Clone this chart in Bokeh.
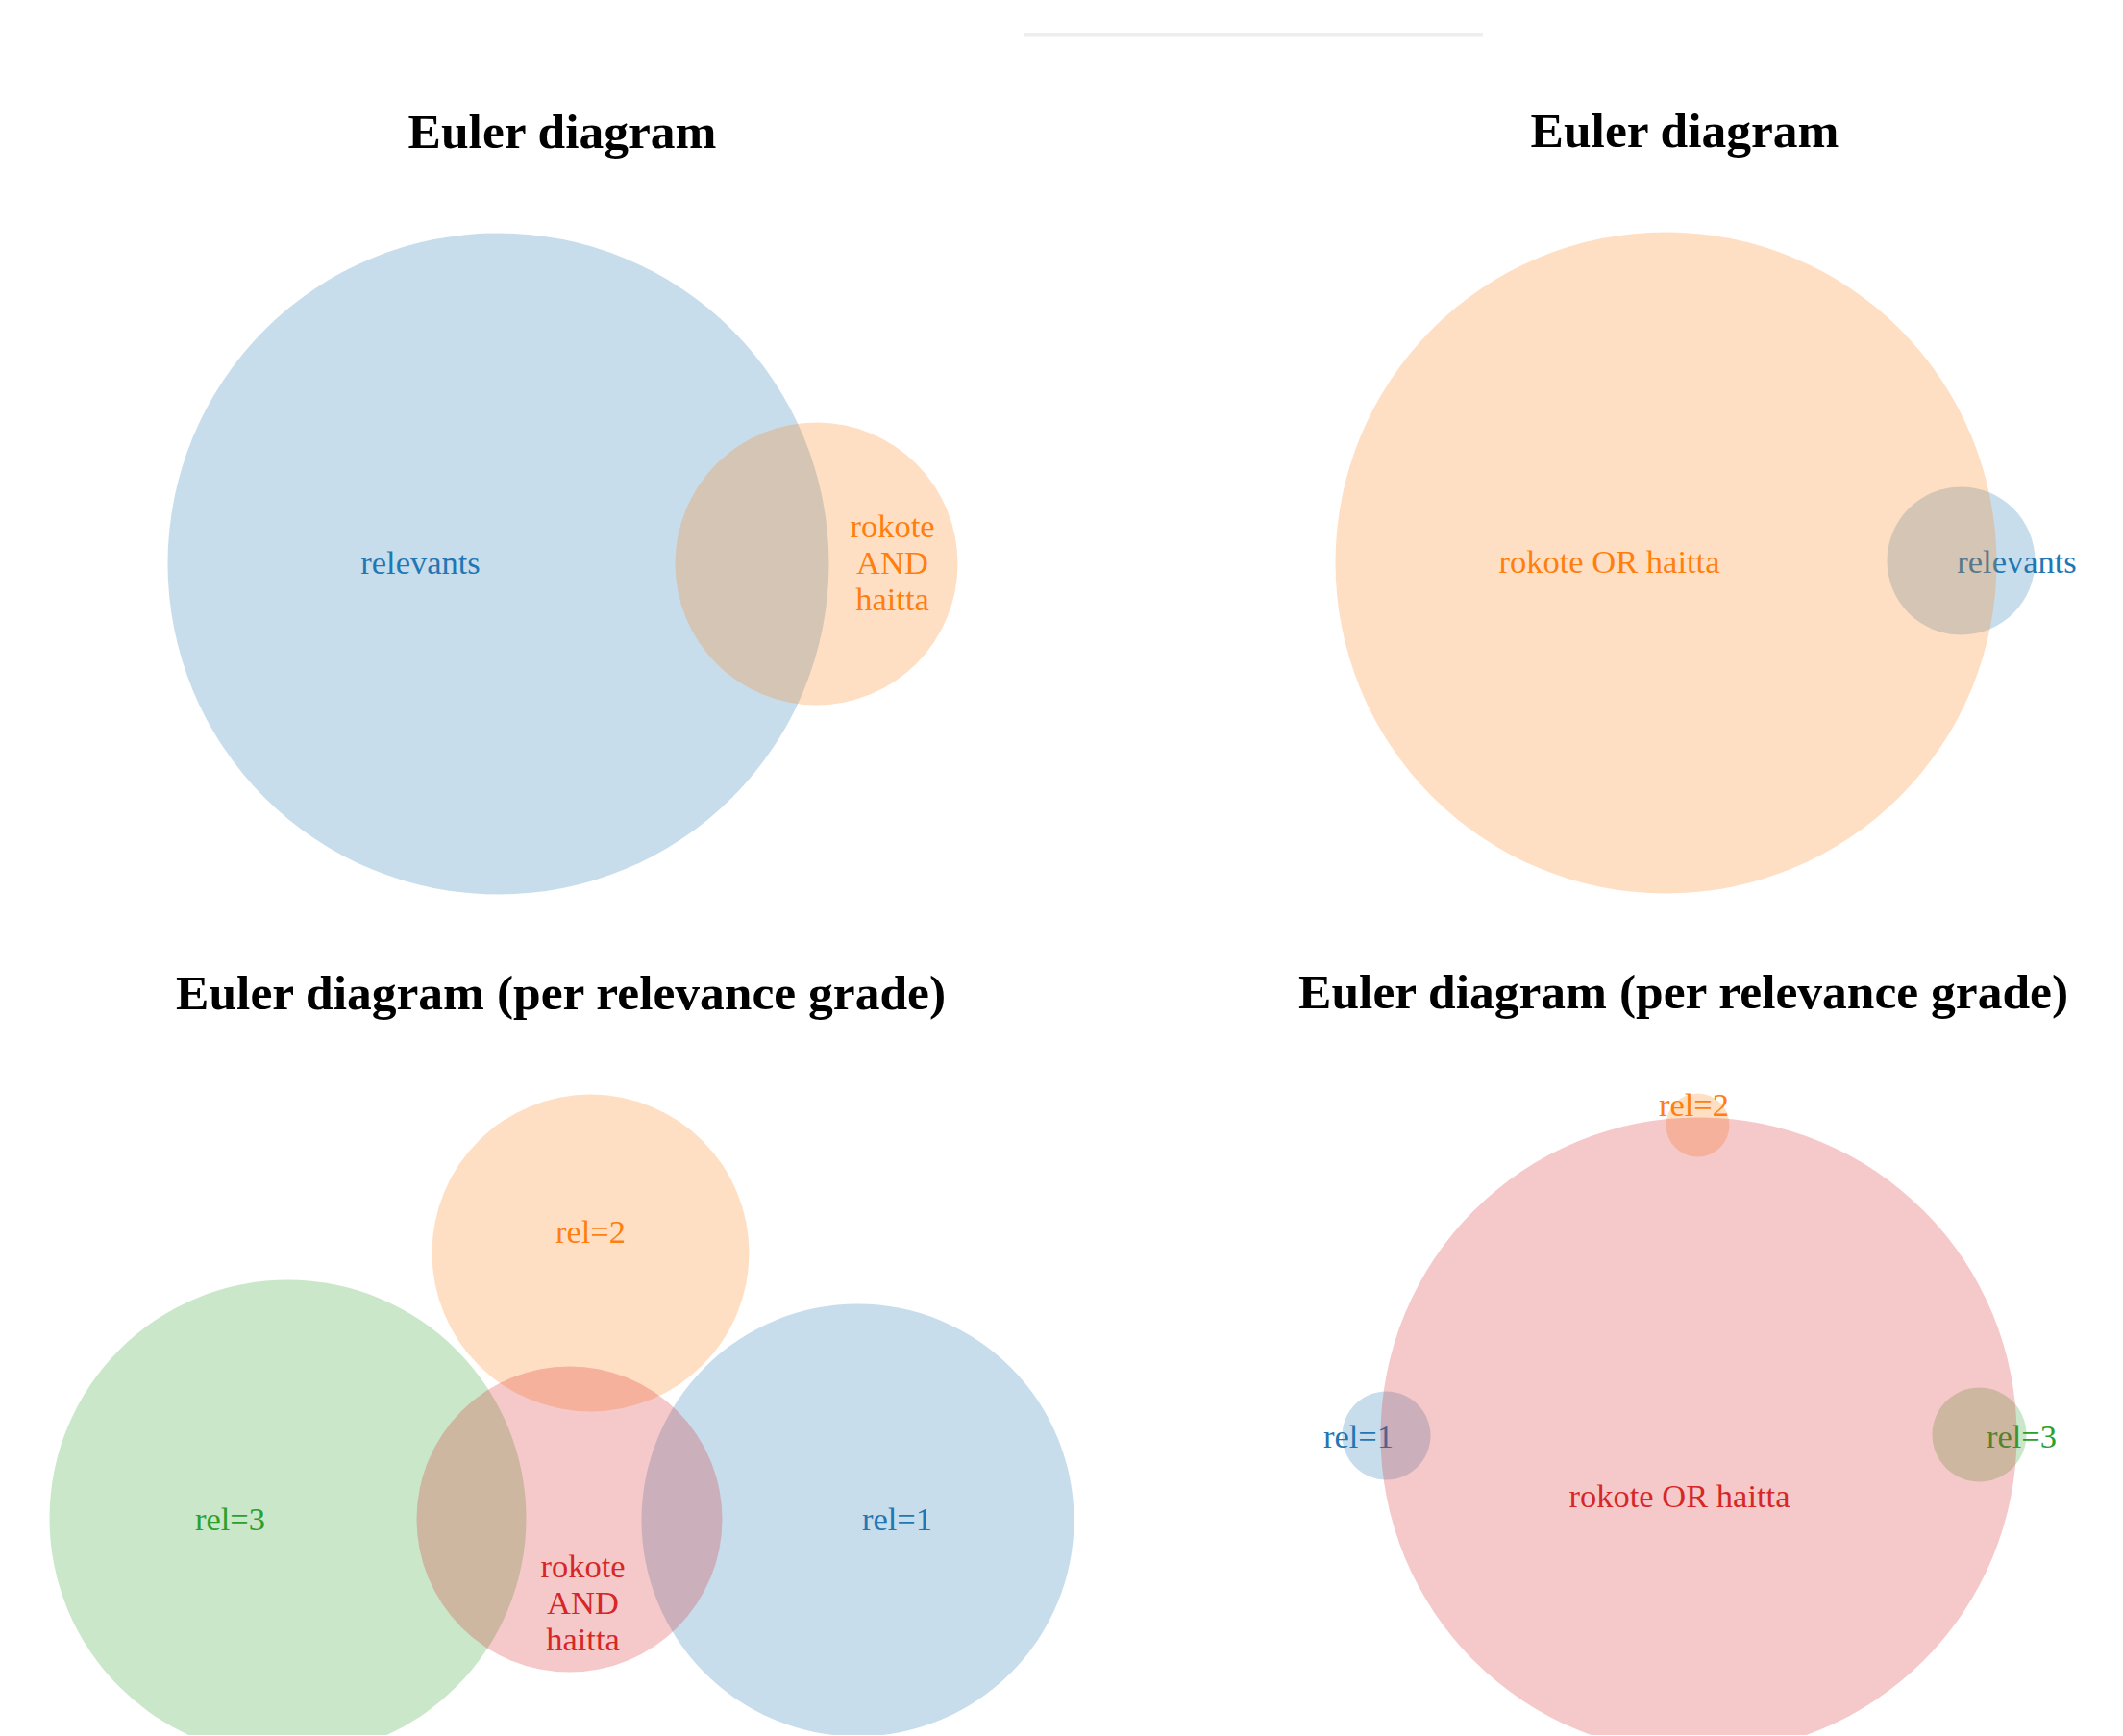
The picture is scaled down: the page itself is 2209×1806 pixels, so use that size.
from bokeh.plotting import figure
from bokeh.models import Range1d, Div
from bokeh.layouts import column, row
from bokeh.embed import file_html
from bokeh.resources import INLINE
from bokeh.core.properties import value

BLUE, ORANGE, GREEN, RED = "#1f77b4", "#ff7f0e", "#2ca02c", "#d62728"

# ---------------- data (diagram units) ----------------
# Panel 1: relevants vs. "rokote AND haitta"
p1_title = "Euler diagram"
p1_sets = ["relevants", "rokote\nAND\nhaitta"]
p1_x = [0.0, 3.31]
p1_y = [0.0, 0.0]
p1_r = [3.44, 1.47]
p1_colors = [BLUE, ORANGE]
p1_label_x = [-0.81, 4.10]
p1_label_y = [0.0, 0.0]

# Panel 2: "rokote OR haitta" vs. relevants
p2_title = "Euler diagram"
p2_sets = ["relevants", "rokote OR haitta"]
p2_x = [3.07, 0.0]
p2_y = [0.02, 0.0]
p2_r = [0.77, 3.44]
p2_colors = [BLUE, ORANGE]
p2_label_x = [3.65, -0.59]
p2_label_y = [0.0, 0.0]

# Panel 3: per relevance grade vs. "rokote AND haitta"
p3_title = "Euler diagram (per relevance grade)"
p3_sets = ["rel=1", "rel=2", "rel=3", "rokote\nAND\nhaitta"]
p3_x = [3.00, 0.22, -2.93, 0.0]
p3_y = [-0.01, 2.77, 0.01, 0.0]
p3_r = [2.25, 1.65, 2.48, 1.59]
p3_colors = [BLUE, ORANGE, GREEN, RED]
p3_label_x = [3.41, 0.22, -3.53, 0.14]
p3_label_y = [-0.01, 2.98, -0.01, -0.88]

# Panel 4: per relevance grade vs. "rokote OR haitta"
p4_title = "Euler diagram (per relevance grade)"
p4_sets = ["rel=1", "rel=2", "rel=3", "rokote OR haitta"]
p4_x = [-3.25, -0.01, 2.92, 0.0]
p4_y = [0.0, 3.23, 0.01, 0.0]
p4_r = [0.46, 0.33, 0.49, 3.31]
p4_colors = [BLUE, ORANGE, GREEN, RED]
p4_label_x = [-3.54, -0.05, 3.36, -0.20]
p4_label_y = [-0.02, 3.43, -0.02, -0.64]

# ---------------- layout ----------------
SCALE = 100.0          # pixels per diagram unit
FONT = "Liberation Serif"
TITLE_GAP = 1.06       # diagram units between diagram top and title baseline


def panel(title, sets, xs, ys, rs, colors, lx, ly, origin, frame):
    ox, oy = origin          # page pixel of diagram origin
    left, top, w, h = frame  # page pixel rectangle of the panel
    p = figure(width=w, height=h, output_backend="svg", toolbar_location=None,
               x_axis_location=None, y_axis_location=None, min_border=0,
               x_range=Range1d((left - ox) / SCALE, (left + w - ox) / SCALE),
               y_range=Range1d((oy - (top + h)) / SCALE, (oy - top) / SCALE))
    p.grid.visible = False
    p.outline_line_color = None
    p.background_fill_color = "white"
    p.border_fill_color = "white"

    # labels (drawn below the translucent circles)
    p.text(x=lx, y=ly, text=sets, text_color=colors,
           text_font=value(FONT), text_font_size="34.5px", y_offset=-2,
           text_align="center", text_baseline="middle", text_line_height=1.0)
    # set circles
    p.circle(x=xs, y=ys, radius=rs, fill_color=colors, fill_alpha=0.25,
             line_color=None)
    # title centred over the diagram
    x0 = min(x - r for x, r in zip(xs, rs))
    x1 = max(x + r for x, r in zip(xs, rs))
    ytop = max(y + r for y, r in zip(ys, rs))
    p.text(x=[(x0 + x1) / 2], y=[ytop + TITLE_GAP], text=[title],
           text_color="#000000", text_font=value(FONT), text_font_size="51.5px",
           text_font_style="bold", text_align="center", text_baseline="alphabetic")
    return p


TOTAL_W = 2200
TOP_H = 60
ROW1_TOP, ROW1_H = TOP_H, 900
ROW2_TOP, ROW2_H = ROW1_TOP + ROW1_H, 845
COL1_LEFT, COL1_W = 0, 1150
COL2_LEFT, COL2_W = 1150, TOTAL_W - 1150

f1 = panel(p1_title, p1_sets, p1_x, p1_y, p1_r, p1_colors, p1_label_x, p1_label_y,
           (518, 586), (COL1_LEFT, ROW1_TOP, COL1_W, ROW1_H))
f2 = panel(p2_title, p2_sets, p2_x, p2_y, p2_r, p2_colors, p2_label_x, p2_label_y,
           (1733, 585), (COL2_LEFT, ROW1_TOP, COL2_W, ROW1_H))
f3 = panel(p3_title, p3_sets, p3_x, p3_y, p3_r, p3_colors, p3_label_x, p3_label_y,
           (592, 1580), (COL1_LEFT, ROW2_TOP, COL1_W, ROW2_H))
f4 = panel(p4_title, p4_sets, p4_x, p4_y, p4_r, p4_colors, p4_label_x, p4_label_y,
           (1767, 1493), (COL2_LEFT, ROW2_TOP, COL2_W, ROW2_H))

rule = Div(text=(
    f'<div style="position:relative;width:{TOTAL_W}px;height:{TOP_H}px;">'
    '<div style="position:absolute;left:1066px;top:34px;width:477px;height:3px;background:#eeeeee"></div>'
    '<div style="position:absolute;left:1066px;top:37px;width:477px;height:2px;background:#f6f6f6"></div>'
    '</div>'), width=TOTAL_W, height=TOP_H, margin=(0, 0, 0, 0))

layout = column(rule, row(f1, f2, spacing=0), row(f3, f4, spacing=0), spacing=0)

open("out.html", "w").write(file_html(layout, INLINE, title="Euler diagrams"))
